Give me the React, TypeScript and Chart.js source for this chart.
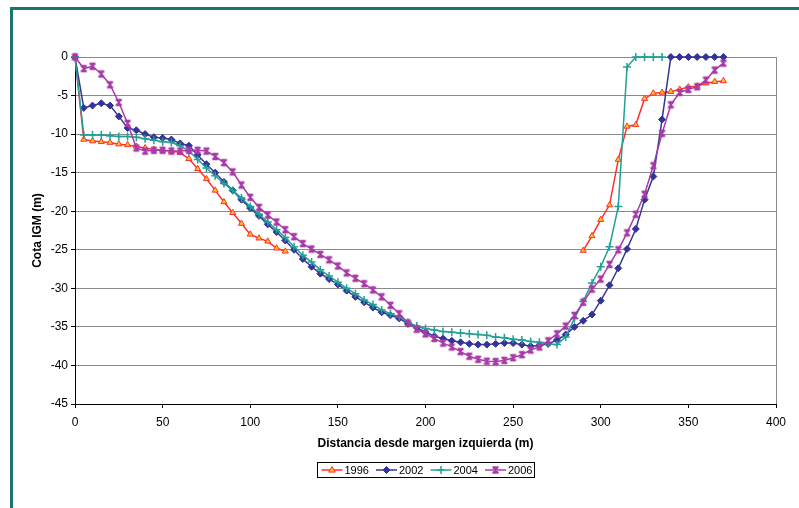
import { useEffect, useRef } from 'react';
import { Chart, registerables } from 'chart.js';

Chart.register(...registerables);

const FONT = "'Liberation Sans', Arial, Helvetica, sans-serif";

// Distance from left bank (m)
const distances = [
  0, 5, 10, 15, 20, 25, 30, 35, 40, 45,
  50, 55, 60, 65, 70, 75, 80, 85, 90, 95,
  100, 105, 110, 115, 120, 125, 130, 135, 140, 145,
  150, 155, 160, 165, 170, 175, 180, 185, 190, 195,
  200, 205, 210, 215, 220, 225, 230, 235, 240, 245,
  250, 255, 260, 265, 270, 275, 280, 285, 290, 295,
  300, 305, 310, 315, 320, 325, 330, 335, 340, 345,
  350, 355, 360, 365, 370,
];

const cota1996 = [
  0, -10.7, -10.9, -11.0, -11.1, -11.3, -11.4, -11.6, -11.8, -12.0,
  -12.1, -12.2, -12.4, -13.2, -14.5, -15.8, -17.3, -18.8, -20.2, -21.6,
  -23.0, -23.5, -23.9, -24.8, -25.2, null, null, null, null, null,
  null, null, null, null, null, null, null, null, null, null,
  null, null, null, null, null, null, null, null, null, null,
  null, null, null, null, null, null, null, null, -25.1, -23.2,
  -21.1, -19.2, -13.3, -9.0, -8.8, -5.4, -4.7, -4.6, -4.5, -4.2,
  -3.9, -3.8, -3.4, -3.2, -3.1,
];

const cota2002 = [
  0, -6.6, -6.3, -6.0, -6.3, -7.7, -9.2, -9.5, -10.0, -10.4,
  -10.5, -10.7, -11.2, -11.5, -12.7, -13.9, -15.0, -16.2, -17.3, -18.5,
  -19.6, -20.6, -21.7, -22.7, -23.8, -25.0, -26.2, -27.2, -28.1, -28.8,
  -29.5, -30.3, -31.1, -31.8, -32.5, -33.1, -33.5, -33.9, -34.6, -35.1,
  -35.7, -36.2, -36.5, -36.8, -37.0, -37.2, -37.3, -37.3, -37.2, -37.1,
  -37.1, -37.3, -37.5, -37.4, -37.2, -36.7, -36.0, -35.0, -34.2, -33.4,
  -31.6, -29.6, -27.4, -24.9, -22.3, -18.5, -15.5, -8.1, 0, 0,
  0, 0, 0, 0, 0,
];

const cota2004 = [
  0, -10.1, -10.1, -10.1, -10.2, -10.3, -10.3, -10.4, -10.6, -10.8,
  -11.0, -11.1, -11.5, -12.2, -13.3, -14.4, -15.4, -16.4, -17.3, -18.3,
  -19.4, -20.4, -21.4, -22.4, -23.4, -24.6, -25.7, -26.6, -27.6, -28.4,
  -29.2, -30.0, -30.7, -31.5, -32.1, -32.8, -33.3, -33.7, -34.4, -34.9,
  -35.2, -35.4, -35.6, -35.7, -35.8, -35.9, -36.0, -36.1, -36.3, -36.4,
  -36.6, -36.7, -36.9, -37.0, -37.2, -37.3, -36.3, -33.9, -31.7, -29.3,
  -27.2, -24.6, -19.4, -1.3, 0, 0, 0, 0, null, null,
  null, null, null, null, null,
];

const cota2006 = [
  0, -1.5, -1.2, -2.2, -3.6, -5.9, -8.6, -11.8, -12.2, -12.1,
  -12.1, -12.2, -12.2, -12.1, -12.1, -12.2, -12.9, -13.7, -14.9, -16.6,
  -18.2, -19.5, -20.5, -21.4, -22.4, -23.3, -24.2, -24.9, -25.6, -26.3,
  -27.1, -28.0, -28.7, -29.4, -30.2, -31.1, -32.2, -33.3, -34.5, -35.3,
  -35.9, -36.5, -37.1, -37.6, -38.2, -38.8, -39.2, -39.45, -39.5, -39.35,
  -39.0, -38.6, -38.0, -37.6, -36.8, -35.9, -34.9, -33.5, -31.8, -30.1,
  -28.8, -26.9, -25.0, -22.8, -20.4, -17.8, -14.1, -9.9, -6.2, -4.6,
  -4.2, -3.85, -3.0, -1.7, -0.8,
];

const seriesNames = ['1996', '2002', '2004', '2006'];
const seriesValues = [cota1996, cota2002, cota2004, cota2006];
const lineColors = ['#ff2f2f', '#33339a', '#22a096', '#a83aa8'];
const markerFills = ['#ffc21a', '#33339a', '#22a096', '#a83aa8'];
const markerStyles = ['triangle', 'rectRot', 'cross', 'asterisk'];
const markerRadius = [3.5, 3.5, 4, 3.5];

const xAxisTitle = 'Distancia desde margen izquierda (m)';
const yAxisTitle = 'Cota IGM (m)';

function drawMarker(ctx: CanvasRenderingContext2D, style: string, x: number, y: number, r: number, stroke: string, fill: string) {
  ctx.save();
  ctx.strokeStyle = stroke;
  ctx.fillStyle = fill;
  ctx.lineWidth = 1.5;
  ctx.beginPath();
  if (style === 'triangle') {
    ctx.lineWidth = 1;
    ctx.moveTo(x, y - r);
    ctx.lineTo(x + r * 0.95, y + r * 0.6);
    ctx.lineTo(x - r * 0.95, y + r * 0.6);
    ctx.closePath();
    ctx.fill();
    ctx.stroke();
  } else if (style === 'rectRot') {
    ctx.lineWidth = 1;
    ctx.moveTo(x, y - r);
    ctx.lineTo(x + r, y);
    ctx.lineTo(x, y + r);
    ctx.lineTo(x - r, y);
    ctx.closePath();
    ctx.fill();
    ctx.stroke();
  } else if (style === 'cross') {
    ctx.moveTo(x - r, y);
    ctx.lineTo(x + r, y);
    ctx.moveTo(x, y - r);
    ctx.lineTo(x, y + r);
    ctx.stroke();
  } else {
    const d = r * 0.85;
    ctx.moveTo(x - d, y - d);
    ctx.lineTo(x + d, y + d);
    ctx.moveTo(x + d, y - d);
    ctx.lineTo(x - d, y + d);
    ctx.moveTo(x, y - r);
    ctx.lineTo(x, y + r);
    ctx.moveTo(x - d, y - d);
    ctx.lineTo(x + d, y - d);
    ctx.moveTo(x - d, y + d);
    ctx.lineTo(x + d, y + d);
    ctx.stroke();
  }
  ctx.restore();
}

function makeAsteriskImage(color: string, r: number): HTMLCanvasElement {
  const size = Math.ceil(r * 2 + 4);
  const c = document.createElement('canvas');
  c.width = size;
  c.height = size;
  const ctx = c.getContext('2d') as CanvasRenderingContext2D;
  drawMarker(ctx, 'asterisk', size / 2, size / 2, r, color, color);
  return c;
}

const plotBorderPlugin = {
  id: 'plotBorder',
  beforeDatasetsDraw(chart: any) {
    const { ctx, chartArea } = chart;
    ctx.save();
    ctx.strokeStyle = '#8a8a8a';
    ctx.lineWidth = 1;
    const xr = Math.round(chartArea.right) + 0.5;
    ctx.beginPath();
    ctx.moveTo(xr, chartArea.top);
    ctx.lineTo(xr, chartArea.bottom);
    ctx.stroke();
    ctx.restore();
  },
};

const boxLegendPlugin = {
  id: 'boxLegend',
  afterDraw(chart: any) {
    const { ctx, chartArea } = chart;
    const cx = (chartArea.left + chartArea.right) / 2;
    const boxW = 217;
    const boxH = 15;
    const bx = Math.round(cx - boxW / 2) + 0.5;
    const by = Math.round(chart.height - 46) + 0.5;
    ctx.save();
    ctx.fillStyle = '#ffffff';
    ctx.fillRect(bx, by, boxW, boxH);
    ctx.strokeStyle = '#000000';
    ctx.lineWidth = 1;
    ctx.strokeRect(bx, by, boxW, boxH);
    ctx.font = `11px ${FONT}`;
    ctx.textBaseline = 'middle';
    ctx.textAlign = 'left';
    const step = 54.5;
    const cy = by + boxH / 2;
    chart.data.datasets.forEach((ds: any, i: number) => {
      const sx = bx + 4 + i * step;
      ctx.strokeStyle = ds.borderColor;
      ctx.lineWidth = 1.5;
      ctx.beginPath();
      ctx.moveTo(sx, cy);
      ctx.lineTo(sx + 21, cy);
      ctx.stroke();
      drawMarker(ctx, markerStyles[i], sx + 10.5, cy, markerRadius[i], lineColors[i], markerFills[i]);
      ctx.fillStyle = '#000000';
      ctx.fillText(ds.label, sx + 23, cy + 0.5);
    });
    ctx.restore();
  },
};

export default function App() {
  const canvasRef = useRef<HTMLCanvasElement>(null);

  useEffect(() => {
    if (!canvasRef.current) return;
    const datasets = seriesNames.map((name, i) => ({
      label: name,
      data: distances.map((x, j) => ({ x, y: seriesValues[i][j] })),
      borderColor: lineColors[i],
      backgroundColor: markerFills[i],
      borderWidth: 1.5,
      pointStyle: markerStyles[i] === 'asterisk' ? makeAsteriskImage(lineColors[i], markerRadius[i]) : markerStyles[i],
      pointRadius: markerRadius[i],
      pointBorderColor: lineColors[i],
      pointBackgroundColor: markerFills[i],
      pointBorderWidth: i >= 2 ? 1.5 : 1,
      tension: 0,
      fill: false,
      spanGaps: false,
      clip: false as any,
      order: 3 - i,
    }));

    const chart = new Chart(canvasRef.current, {
      type: 'line',
      data: { datasets },
      options: {
        responsive: false,
        animation: false,
        events: [],
        layout: { padding: { left: 25, top: 57, right: 23, bottom: 54 } },
        plugins: {
          legend: { display: false },
          tooltip: { enabled: false },
        },
        scales: {
          x: {
            type: 'linear',
            min: 0,
            max: 400,
            ticks: {
              stepSize: 50,
              color: '#000',
              font: { family: FONT, size: 12 },
              padding: 7,
              maxRotation: 0,
            },
            grid: {
              drawOnChartArea: false,
              drawTicks: true,
              tickLength: 4,
              tickColor: '#000',
            },
            border: { color: '#000', width: 1 },
            title: {
              display: true,
              text: xAxisTitle,
              color: '#000',
              font: { family: FONT, size: 12, weight: 'bold' },
              padding: { top: 0, bottom: 3 },
            },
            afterFit: (s: any) => {
              s.height = 50;
            },
          },
          y: {
            type: 'linear',
            min: -45,
            max: 0,
            ticks: {
              stepSize: 5,
              color: '#000',
              font: { family: FONT, size: 12 },
              padding: 3,
            },
            grid: {
              color: '#8a8a8a',
              lineWidth: 1,
              drawTicks: true,
              tickLength: 4,
              tickColor: '#000',
            },
            border: { color: '#000', width: 1 },
            title: {
              display: true,
              text: yAxisTitle,
              color: '#000',
              font: { family: FONT, size: 12, weight: 'bold' },
              padding: { top: 5, bottom: 0 },
            },
            afterFit: (s: any) => {
              s.width = 50;
            },
          },
        },
      } as any,
      plugins: [plotBorderPlugin, boxLegendPlugin],
    });
    return () => chart.destroy();
  }, []);

  return (
    <div
      style={{
        position: 'fixed',
        left: 0,
        top: 0,
        width: 799,
        height: 508,
        overflow: 'hidden',
        background: '#ffffff',
      }}
    >
      <canvas ref={canvasRef} width={799} height={508} style={{ display: 'block', position: 'absolute', left: 0, top: 0 }} />
      <div
        style={{
          position: 'absolute',
          left: 10,
          top: 7,
          width: 820,
          height: 520,
          borderLeft: '3px solid #1b7572',
          borderTop: '3px solid #1b7572',
          pointerEvents: 'none',
        }}
      />
    </div>
  );
}
